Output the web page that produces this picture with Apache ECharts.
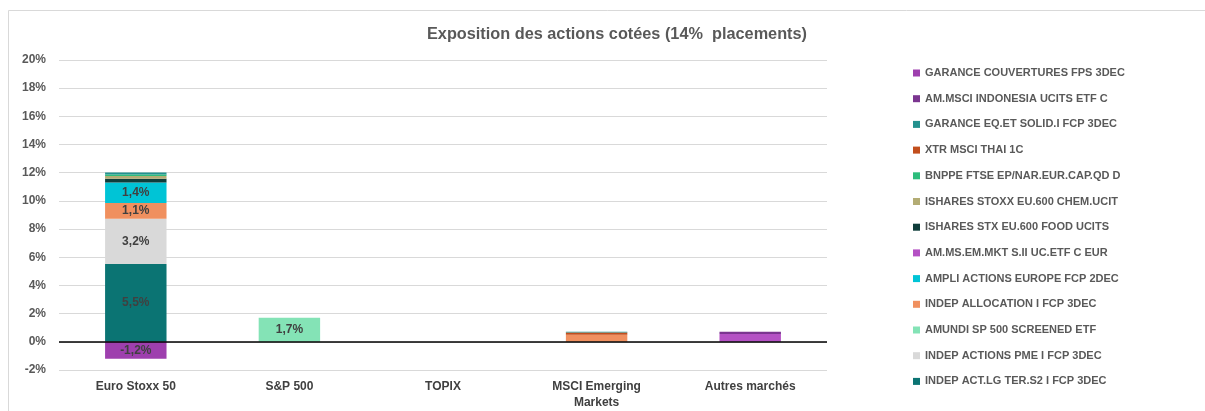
<!DOCTYPE html>
<html>
<head>
<meta charset="utf-8">
<script src="https://cdn.jsdelivr.net/npm/echarts@6/dist/echarts.min.js"></script>
<style>
html,body{margin:0;padding:0;background:#fff;}
#chart{width:1205px;height:411px;}
</style>
</head>
<body>
<div id="chart"></div>
<script>
const categories = ['Euro Stoxx 50', 'S&P 500', 'TOPIX', 'MSCI Emerging\nMarkets', 'Autres marchés'];
const yTicks = [-2, 0, 2, 4, 6, 8, 10, 12, 14, 16, 18, 20];
const title = 'Exposition des actions cotées (14%  placements)';

// stack order: bottom to top
const seriesNames = [
  'INDEP ACT.LG TER.S2 I FCP 3DEC',
  'INDEP ACTIONS PME I FCP 3DEC',
  'AMUNDI SP 500 SCREENED ETF',
  'INDEP ALLOCATION I FCP 3DEC',
  'AMPLI ACTIONS EUROPE FCP 2DEC',
  'AM.MS.EM.MKT S.II UC.ETF C EUR',
  'ISHARES STX EU.600 FOOD UCITS',
  'ISHARES STOXX EU.600 CHEM.UCIT',
  'BNPPE FTSE EP/NAR.EUR.CAP.QD D',
  'XTR MSCI THAI 1C',
  'GARANCE EQ.ET SOLID.I FCP 3DEC',
  'AM.MSCI INDONESIA UCITS ETF C',
  'GARANCE COUVERTURES FPS 3DEC'
];
const indepActLg     = [5.52, 0, 0, 0, 0];
const indepPme       = [3.22, 0, 0, 0, 0];
const amundiSp500    = [0, 1.7, 0, 0, 0];
const indepAlloc     = [1.12, 0, 0, 0.5, 0];
const ampliEurope    = [1.44, 0, 0, 0, 0];
const amMsEmMkt      = [0, 0, 0, 0, 0.55];
const isharesFood    = [0.28, 0, 0, 0, 0];
const isharesChem    = [0.19, 0, 0, 0, 0];
const bnppe          = [0.1, 0, 0, 0, 0];
const xtrThai        = [0, 0, 0, 0.16, 0];
const garanceEq      = [0.14, 0, 0, 0.06, 0];
const amMsciIndo     = [0, 0, 0, 0, 0.16];
const garanceCouv    = [-1.2, 0, 0, 0, 0];

const seriesValues = [indepActLg, indepPme, amundiSp500, indepAlloc, ampliEurope, amMsEmMkt,
  isharesFood, isharesChem, bnppe, xtrThai, garanceEq, amMsciIndo, garanceCouv];
const colors = ['#0b7473', '#d9d9d9', '#84e3b6', '#f0905f', '#00c4d6', '#b451c4',
  '#0f3d3a', '#b3ac74', '#2dbd7c', '#c24e1c', '#23918e', '#7b3590', '#9e3fae'];

const fmt = v => v.toFixed(1).replace('.', ',') + '%';

const series = seriesNames.map((name, i) => ({
  name: name,
  type: 'bar',
  stack: 'total',
  barWidth: '40%',
  itemStyle: { color: colors[i] },
  data: seriesValues[i].map(v => v === 0 ? null : v),
  label: {
    show: true,
    position: 'inside',
    color: '#404040',
    fontWeight: 'bold',
    fontSize: 12,
    fontFamily: 'Liberation Sans, Arial, sans-serif',
    formatter: p => (p.value !== null && Math.abs(p.value) >= 1) ? fmt(p.value) : ''
  },
  emphasis: { disabled: true }
}));
series[0].markLine = {
  silent: true,
  symbol: 'none',
  label: { show: false },
  lineStyle: { color: '#000', width: 1.5, type: 'solid' },
  data: [{ yAxis: 0 }]
};

const chart = echarts.init(document.getElementById('chart'));
chart.setOption({
  animation: false,
  backgroundColor: '#fff',
  graphic: [{
    type: 'rect',
    shape: { x: 8.5, y: 10.5, width: 1300, height: 500 },
    style: { fill: 'none', stroke: '#d9d9d9', lineWidth: 1 },
    silent: true,
    z: -10
  }],
  title: {
    text: title,
    left: 612,
    textAlign: 'center',
    top: 22,
    textStyle: { color: '#595959', fontSize: 16.3, fontWeight: 'bold', fontFamily: 'Liberation Sans, Arial, sans-serif' }
  },
  legend: {
    orient: 'vertical',
    left: 908,
    top: 62,
    itemWidth: 7,
    itemHeight: 7,
    itemGap: 13.7,
    icon: 'rect',
    data: seriesNames.slice().reverse(),
    textStyle: { color: '#595959', fontSize: 11, fontWeight: 'bold', lineHeight: 12, fontFamily: 'Liberation Sans, Arial, sans-serif' },
    selectedMode: false
  },
  grid: { left: 59, width: 768, top: 60, height: 312, containLabel: false },
  xAxis: {
    type: 'category',
    data: categories,
    axisLine: { show: false },
    axisTick: { show: false },
    axisLabel: {
      color: '#404040', fontSize: 12, fontWeight: 'bold', margin: 9, lineHeight: 16,
      fontFamily: 'Liberation Sans, Arial, sans-serif', interval: 0
    }
  },
  yAxis: {
    type: 'value',
    min: yTicks[0],
    max: yTicks[yTicks.length - 1],
    interval: 2,
    axisLine: { show: false },
    axisTick: { show: false },
    splitLine: { lineStyle: { color: '#d9d9d9', width: 1 } },
    axisLabel: {
      color: '#595959', fontSize: 12, fontWeight: 'bold', margin: 13,
      fontFamily: 'Liberation Sans, Arial, sans-serif',
      formatter: v => v + '%'
    }
  },
  series: series
});
</script>
</body>
</html>
